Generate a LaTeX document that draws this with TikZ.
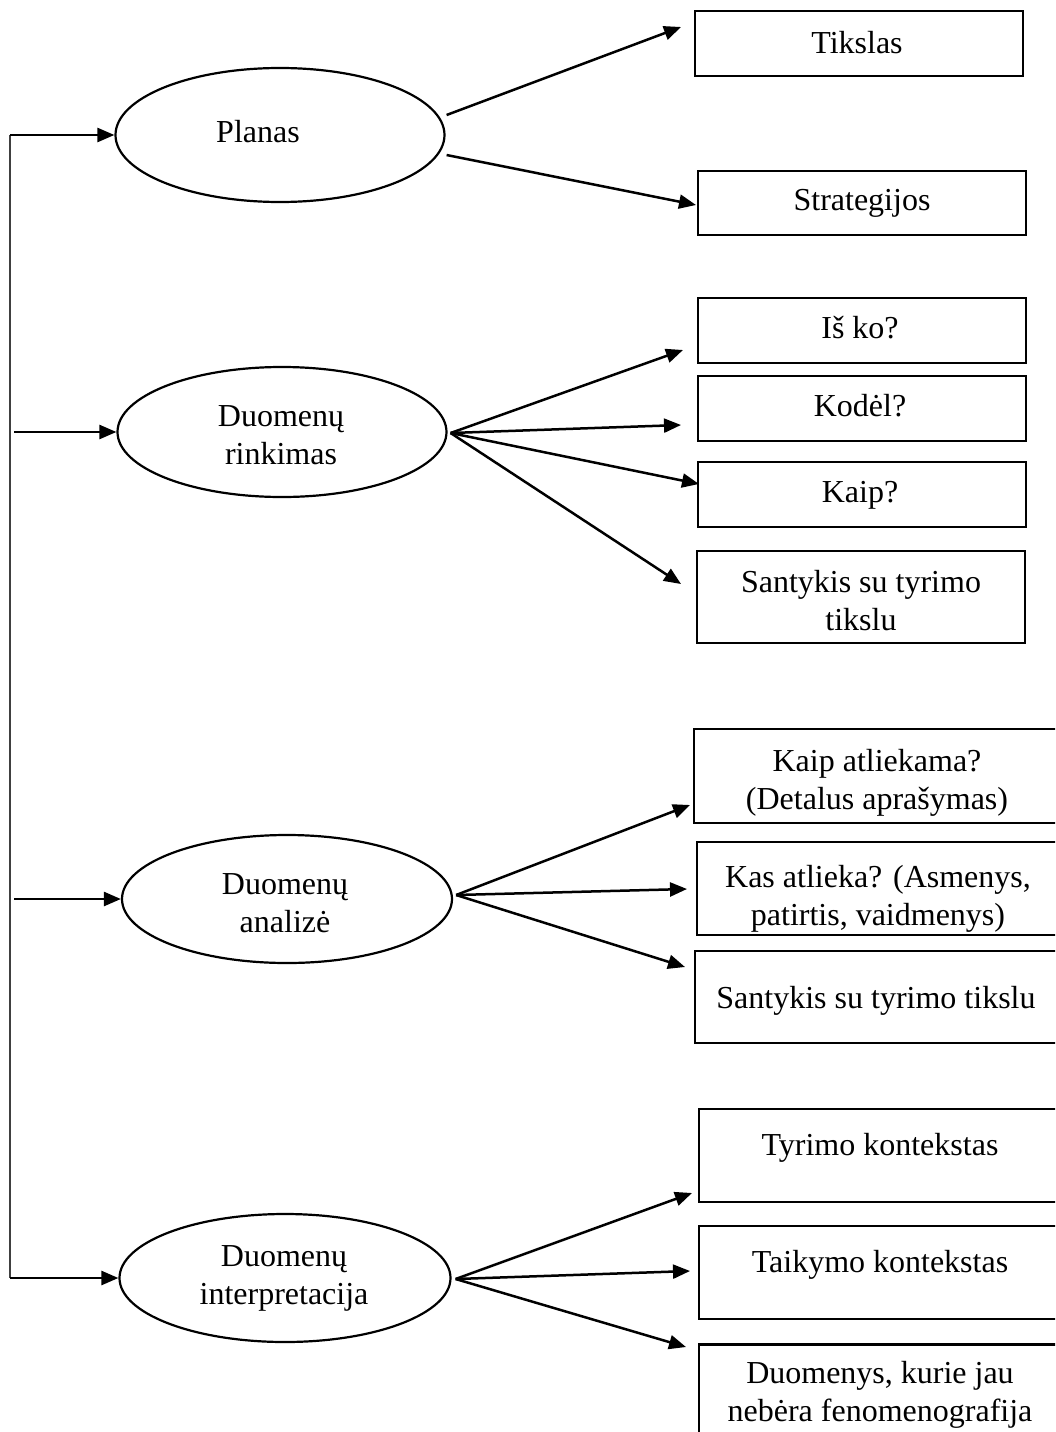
\documentclass[tikz,border=0pt]{standalone}
\usepackage{fontspec}
\setmainfont{Liberation Serif}
\usetikzlibrary{shapes.geometric,arrows.meta,calc}

\tikzset{
  txt/.style={font=\fontsize{32}{38}\selectfont, align=center, inner sep=0pt},
  % base anchor: baseline of the last text line
  btxt/.style={txt, anchor=base},
  oval/.style={draw, ellipse, line width=2.2pt, inner sep=0pt},
  frame/.style={draw, rectangle, line width=2.6pt, inner sep=0pt},
  arr/.style={line width=2.5pt, -{Triangle[length=17pt,width=14pt]}},
  spine/.style={line width=1.6pt, black!75}
}

\begin{document}
\begin{tikzpicture}[x=1pt,y=-1pt]
\useasboundingbox (0,0) rectangle (1055,1432);
\clip (0,0) rectangle (1055,1432);

% stages
\node[oval, minimum width=329pt, minimum height=134pt] (pl) at (280,135) {};
\node[txt] (plt) at (258,132) {Planas};
\node[oval, minimum width=329pt, minimum height=130pt] (rk) at (282,432) {};
\node[txt] (rkt) at (281,435) {Duomenų\\rinkimas};
\node[oval, minimum width=330pt, minimum height=128pt] (an) at (287,899) {};
\node[txt] (ant) at (285,903) {Duomenų\\analizė};
\node[oval, minimum width=331pt, minimum height=128pt] (in) at (285,1278) {};
\node[txt] (int) at (284,1278) {Duomenų\\interpretacija};

% planning
\node[frame, minimum width=328pt, minimum height=65pt] (b1) at (859,43.5) {};
\node[btxt] (l1) at (857,53) {Tikslas};
\node[frame, minimum width=328pt, minimum height=64pt] (b2) at (862,203) {};
\node[btxt] (l2) at (862,210) {Strategijos};
% data collection
\node[frame, minimum width=328pt, minimum height=65pt] (b3) at (862,330.5) {};
\node[btxt] (l3) at (860,338) {Iš ko?};
\node[frame, minimum width=328pt, minimum height=65pt] (b4) at (862,408.5) {};
\node[btxt] (l4) at (860,416) {Kodėl?};
\node[frame, minimum width=328pt, minimum height=65pt] (b5) at (862,494.5) {};
\node[btxt] (l5) at (860,502) {Kaip?};
\node[frame, minimum width=328pt, minimum height=92pt] (b6) at (861,597) {};
\node[btxt] (l6) at (861,630) {Santykis su tyrimo\\tikslu};
% data analysis
\node[frame, minimum width=368pt, minimum height=94pt] (b7) at (878,776) {};
\begin{scope}
  \clip (b7.north west) rectangle (b7.south east);
  \node[btxt] (l7) at (877,809) {Kaip atliekama?\\(Detalus aprašymas)};
\end{scope}
\node[frame, minimum width=365pt, minimum height=93pt] (b8) at (879.5,888.5) {};
\begin{scope}
  \clip (b8.north west) rectangle (b8.south east);
  \node[btxt] (l8) at (878,925) {Kas atlieka? (Asmenys,\\patirtis, vaidmenys)};
\end{scope}
\node[frame, minimum width=367pt, minimum height=92pt] (b9) at (878.5,997) {};
\node[btxt] (l9) at (876,1008) {Santykis su tyrimo tikslu};
% interpretation
\node[frame, minimum width=363pt, minimum height=93pt] (b10) at (880.5,1155.5) {};
\node[btxt] (l10) at (880,1155) {Tyrimo kontekstas};
\node[frame, minimum width=363pt, minimum height=93pt] (b11) at (880.5,1272.5) {};
\node[btxt] (l11) at (880,1272) {Taikymo kontekstas};
\node[frame, minimum width=363pt, minimum height=93pt] (b12) at (880.5,1391) {};
\node[btxt] (l12) at (880,1421) {Duomenys, kurie jau\\nebėra fenomenografija};

% arrow tips in front of the boxes
\coordinate (t1) at (681,27);
\coordinate (t2) at (696,205);
\coordinate (t3) at (683,350);
\coordinate (t4) at (681,425);
\coordinate (t5) at (699,484);
\coordinate (t6) at (681,584);
\coordinate (t7) at (690,805);
\coordinate (t8) at (687,889);
\coordinate (t9) at (685,967);
\coordinate (t10) at (692,1193);
\coordinate (t11) at (690,1271);
\coordinate (t12) at (686,1347);

% left spine feeding every stage
\coordinate (s1) at (10,135);
\coordinate (s2) at (14,432);
\coordinate (s3) at (14,899);
\coordinate (s4) at (10,1278);
\draw[spine] (s1) -- (s4);
\draw[arr] (s1) -- (pl.west);
\draw[arr] (s2) -- (rk.west);
\draw[arr] (s3) -- (an.west);
\draw[arr] (s4) -- (in.west);

% branches
\draw[arr] ($(pl.east)+(1,-20)$) -- (t1);
\draw[arr] ($(pl.east)+(1,20)$) -- (t2);
\foreach \t in {t3,t4,t5,t6} \draw[arr] ($(rk.east)+(3,1)$) -- (\t);
\foreach \t in {t7,t8,t9} \draw[arr] ($(an.east)+(3,-4)$) -- (\t);
\foreach \t in {t10,t11,t12} \draw[arr] ($(in.east)+(4,1)$) -- (\t);
\end{tikzpicture}
\end{document}
